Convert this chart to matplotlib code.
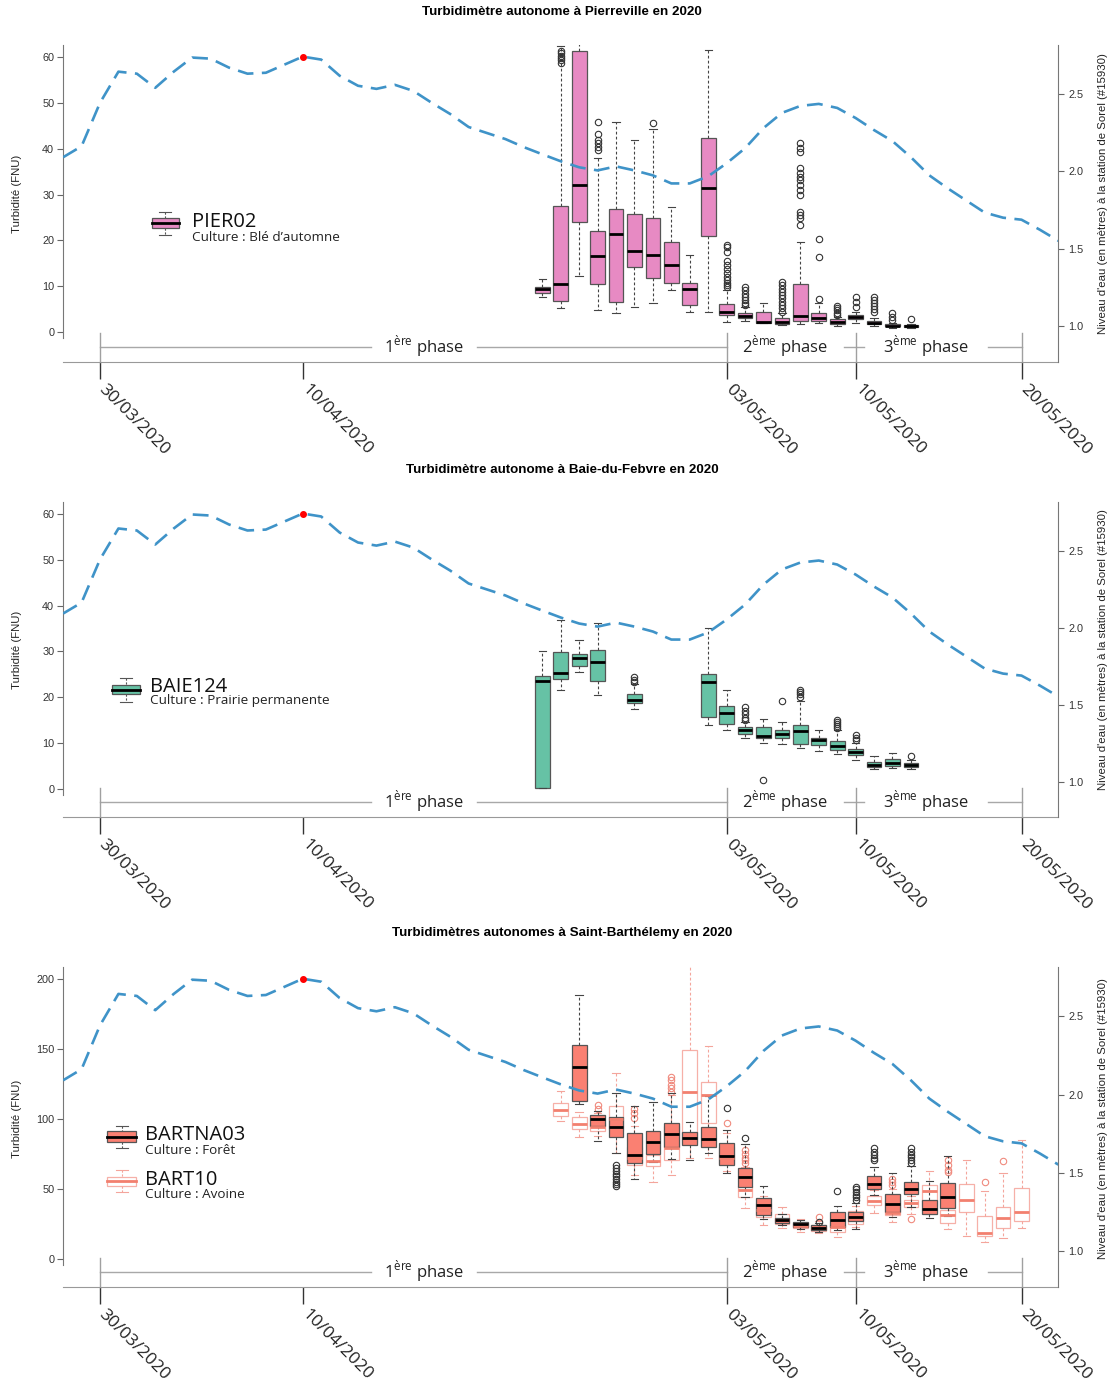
import matplotlib
matplotlib.use('Agg')
import matplotlib.pyplot as plt
from matplotlib.transforms import ScaledTranslation
from matplotlib.patches import Rectangle
from matplotlib.lines import Line2D

plt.rcParams['font.family'] = ['Liberation Sans', 'DejaVu Sans']
plt.rcParams['mathtext.fontset'] = 'dejavusans'

# ---- données ----
# niveau d'eau (m) à Sorel, jour 0 = 30/03/2020
niveau_jours = list(range(-2, 53))
niveau = [2.091, 2.162, 2.442, 2.643, 2.630, 2.539, 2.643, 2.734, 2.727, 2.669,
          2.630, 2.636, 2.688, 2.740, 2.721, 2.617, 2.552, 2.532, 2.558, 2.519,
          2.442, 2.370, 2.286, 2.247, 2.208, 2.156, 2.110, 2.065, 2.026, 2.006,
          2.032, 2.006, 1.974, 1.922, 1.922, 1.968, 2.052, 2.149, 2.279, 2.377,
          2.422, 2.435, 2.409, 2.344, 2.266, 2.195, 2.091, 1.974, 1.890, 1.812,
          1.734, 1.701, 1.688, 1.623, 1.552]
jour_max = 11

dates_jours = [0, 11, 34, 41, 50]
dates_labels = ['30/03/2020', '10/04/2020', '03/05/2020', '10/05/2020', '20/05/2020']

phases_bornes = [0, 34, 41, 50]
phases_centres = [17.58, 37.17, 44.82]
phases_noms = ['1', '2', '3']

# PIER02
pier_jours = list(range(24, 45))
pier_lo = [7.7, 5.3, 12.2, 4.8, 4.1, 5.5, 6.3, 9.3, 4.4, 4.4, 2.25, 2.4, 1.9, 1.5, 1.75, 1.9, 1.3, 2.0, 1.3, 1.0, 0.9]
pier_q1 = [8.6, 6.9, 24.1, 10.6, 6.5, 14.3, 11.9, 10.8, 5.9, 20.9, 3.85, 3.1, 2.0, 1.75, 2.5, 2.5, 1.75, 2.9, 1.75, 1.25, 1.15]
pier_med = [9.45, 10.4, 32.1, 16.7, 21.4, 17.7, 16.9, 14.7, 9.4, 31.5, 4.4, 3.6, 2.3, 2.25, 3.6, 3.05, 2.2, 3.35, 2.0, 1.45, 1.3]
pier_q3 = [9.9, 27.6, 61.2, 22.0, 26.8, 25.7, 24.9, 19.6, 10.8, 42.3, 6.25, 4.2, 4.4, 3.0, 10.4, 4.1, 2.8, 3.85, 2.5, 1.75, 1.5]
pier_hi = [11.5, 62.3, 75.0, 38.0, 45.9, 41.9, 44.2, 27.3, 16.8, 61.5, 9.3, 5.4, 6.4, 4.1, 19.7, 6.4, 3.3, 4.4, 3.0, 1.9, 1.7]
pier_out = [[], [58.7, 59.3, 59.8, 60.3, 60.8, 61.3], [], [39.7, 40.4, 41.2, 41.9, 43.3, 45.9],
            [], [], [45.7], [], [], [],
            [9.8, 10.3, 10.8, 11.3, 12.1, 12.8, 13.7, 14.6, 15.6, 17.5, 18.5, 19.0],
            [5.9, 6.4, 7.0, 7.7, 8.4, 9.3, 9.9], [],
            [4.4, 5.2, 5.9, 6.6, 7.4, 8.1, 8.8, 9.5, 10.3, 11.0],
            [23.3, 24.8, 25.5, 26.3, 29.9, 31.0, 32.1, 33.2, 33.9, 34.6, 35.7, 39.3, 40.1, 41.2],
            [7.2, 16.3, 20.4], [3.7, 4.2, 4.8, 5.3, 5.75], [5.5, 6.6, 7.7],
            [4.4, 5.0, 5.75, 6.4, 7.0, 7.7], [2.6, 3.3, 4.2], [2.9]]

# BAIE124
baie_jours = [24, 25, 26, 27, 29, 33, 34, 35, 36, 37, 38, 39, 40, 41, 42, 43, 44]
baie_lo = [0.2, 21.7, 25.6, 20.6, 17.4, 13.9, 12.9, 11.1, 10.0, 9.75, 8.9, 8.4, 7.6, 6.3, 4.4, 4.6, 4.4]
baie_q1 = [0.3, 24.0, 26.9, 23.6, 18.8, 15.7, 14.1, 12.0, 11.1, 11.1, 9.9, 9.5, 8.5, 7.4, 4.7, 5.0, 4.9]
baie_med = [23.5, 25.2, 28.6, 27.7, 19.5, 23.3, 16.5, 12.8, 11.5, 12.0, 12.7, 10.6, 9.45, 8.1, 5.3, 5.6, 5.3]
baie_q3 = [24.7, 29.9, 29.4, 30.3, 20.7, 25.0, 18.2, 13.5, 13.6, 12.8, 14.0, 11.2, 10.4, 8.7, 6.0, 6.6, 5.7]
baie_hi = [30.0, 36.9, 32.4, 36.2, 23.0, 35.1, 21.7, 14.7, 15.2, 14.6, 19.1, 12.9, 12.9, 10.0, 7.3, 7.9, 6.3]
baie_out = [[], [], [], [], [23.4, 23.8, 24.4], [], [], [15.0, 15.5, 16.3, 17.0, 17.8],
            [2.0], [19.1], [20.0, 20.7, 21.2, 21.7], [], [13.3, 13.7, 14.2, 14.6, 15.0],
            [10.7, 11.2, 11.8], [], [], [7.2]]

# BARTNA03
bna_jours = list(range(26, 47))
bna_lo = [110.7, 84, 75.9, 57.1, 69.0, 71.2, 70.7, 75.5, 61.2, 44.0, 28.6, 24.3, 21.2, 19.5, 21.0, 21.5, 46, 30.2, 37.4, 29.0, 30.7]
bna_q1 = [113.1, 95.2, 86.9, 68.3, 74.8, 80.2, 81.2, 80.2, 67.3, 51.6, 31.4, 25.5, 22.6, 20.7, 23.1, 26.9, 50.0, 33.8, 46.4, 32.1, 36.2]
bna_med = [137.4, 99.8, 94.0, 74.3, 83.6, 89.3, 86.7, 85.7, 73.7, 58.8, 38.6, 27.9, 24.8, 21.9, 27.9, 30.2, 53.6, 39.0, 49.8, 35.7, 44.5]
bna_q3 = [152.9, 103.0, 101.2, 89.8, 91.7, 96.9, 90.5, 94.5, 83.2, 65.2, 43.3, 29.5, 26.2, 24.3, 33.8, 33.8, 59.3, 46.2, 55.2, 42.1, 54.5]
bna_hi = [188.6, 106, 118.8, 109.3, 112.4, 118.3, 98.1, 116.4, 92, 82, 52.4, 32.4, 27.9, 25.5, 37.9, 39.8, 65.9, 61.7, 66.4, 55.7, 73.6]
bna_out = [[], [], [52, 53.5, 55, 57, 59, 61, 63, 65, 67], [], [], [], [], [], [107.8], [86.2],
           [], [], [], [26.2], [48.8], [42, 44, 46, 48, 50, 51.6], [70.7, 72.5, 74.5, 76.5, 79],
           [], [68.6, 70.6, 72.6, 74.6, 76.6, 79], [], []]

# BART10
b10_jours = list(range(25, 51))
b10_lo = [98.6, 87.4, 88, 76, 60, 55, 60, 72, 72, 63, 36.2, 24, 21.9, 19.0, 18.5, 16.0, 23, 33.1, 26.5, 32, 32, 21.4, 16.4, 12.4, 15.2, 22.4]
b10_q1 = [102.4, 92.6, 91.5, 92, 67.5, 66.4, 71, 83, 97.4, 68, 44.5, 30, 24.8, 22.0, 20.0, 19.5, 25, 38.6, 31.2, 37.4, 38, 25.5, 33.8, 16.7, 21.9, 27.4]
b10_med = [106.7, 96.2, 94.5, 100, 72, 70, 79, 119.5, 117.1, 72, 49.3, 35, 27.9, 23.9, 22.5, 22.6, 30, 41.2, 33.1, 39.8, 48.8, 31.2, 42.1, 18.3, 29.0, 33.8]
b10_q3 = [111.2, 101.2, 97, 109, 80, 74, 95, 149.3, 126.7, 80, 52, 40, 32.1, 26.0, 24.3, 24.3, 34, 45.2, 42, 42.1, 52.9, 35, 53.3, 30.9, 37.4, 50.5]
b10_hi = [120.2, 105, 104, 133, 95, 85, 117, 215, 152.1, 90, 66, 45, 37.4, 28.5, 27, 30, 38, 49.4, 50, 45, 62.9, 54, 70.7, 48.8, 61.2, 85]
b10_out = [[], [], [107.5, 110], [], [101, 104, 107], [], [119.5, 122, 124, 128, 130], [], [], [96.9],
           [68.4, 70.5, 72.5, 75, 78], [], [], [], [29.8], [], [], [], [53, 55.2, 57.1], [28.3],
           [], [62.4, 63.6, 67.1, 70.7], [], [54.8], [70.2], []]

# ---- mise en page (pixels de l'image) ----
W, H = 1113, 1387
AX_L, AX_R = 63, 1058
PX_JOUR = 18.43
XLIM = ((AX_L - 100) / PX_JOUR, (AX_R - 100) / PX_JOUR)

OPEN = ['Open Sans', 'DejaVu Sans']
BLEU = '#3F93C8'


def stats(lo, q1, med, q3, hi, out):
    return [dict(whislo=a, q1=b, med=c, q3=d, whishi=e, fliers=f)
            for a, b, c, d, e, f in zip(lo, q1, med, q3, hi, out)]


def boites(ax, jours, st, face, edge='#555555', med='black', wcol='#444444', fcol='#333333'):
    ax.bxp(st, positions=jours, widths=0.8, capwidths=0.4, patch_artist=True,
           manage_ticks=False,
           boxprops=dict(facecolor=face, edgecolor=edge, linewidth=0.9),
           medianprops=dict(color=med, linewidth=2.0, solid_capstyle='butt'),
           whiskerprops=dict(color=wcol, linewidth=0.8, linestyle=(0, (2.5, 2))),
           capprops=dict(color=wcol, linewidth=0.8),
           flierprops=dict(marker='o', markerfacecolor='none', markeredgecolor=fcol,
                           markersize=4.6, markeredgewidth=0.8))


def fx(x):
    return x / W


def fy(y):
    return 1 - y / H


def cle(fig, cx, hw, bt, bb, md, wt, wb, face, edge, medc, wcol):
    fig.add_artist(Line2D([fx(cx)] * 2, [fy(wt), fy(bt)], color=wcol, lw=0.8, ls=(0, (2, 1.5))))
    fig.add_artist(Line2D([fx(cx)] * 2, [fy(bb), fy(wb)], color=wcol, lw=0.8, ls=(0, (2, 1.5))))
    for w in (wt, wb):
        fig.add_artist(Line2D([fx(cx - 6), fx(cx + 6)], [fy(w)] * 2, color=wcol, lw=0.8))
    fig.add_artist(Rectangle((fx(cx - hw), fy(bb)), fx(2 * hw), fy(bt) - fy(bb),
                             facecolor=face, edgecolor=edge, lw=0.9, transform=fig.transFigure))
    fig.add_artist(Line2D([fx(cx - hw), fx(cx + hw)], [fy(md)] * 2, color=medc, lw=2.0))


panneaux = [
    dict(top=45, bot=362, ylim=(-6.5, 62.6), yt=[0, 10, 20, 30, 40, 50, 60],
         titre='Turbidimètre autonome à Pierreville en 2020', ty=12, lab_y=194),
    dict(top=502, bot=817, ylim=(-6.1, 62.6), yt=[0, 10, 20, 30, 40, 50, 60],
         titre='Turbidimètre autonome à Baie-du-Febvre en 2020', ty=470, lab_y=650),
    dict(top=967, bot=1287, ylim=(-20, 208.6), yt=[0, 50, 100, 150, 200],
         titre='Turbidimètres autonomes à Saint-Barthélemy en 2020', ty=933, lab_y=1119),
]

fig = plt.figure(figsize=(W / 100, H / 100), dpi=100)

for i, p in enumerate(panneaux):
    hpx = p['bot'] - p['top']
    ax = fig.add_axes([fx(AX_L), fy(p['bot']), (AX_R - AX_L) / W, hpx / H])
    ax.set_xlim(*XLIM)
    ax.set_ylim(*p['ylim'])

    if i == 0:
        boites(ax, pier_jours, stats(pier_lo, pier_q1, pier_med, pier_q3, pier_hi, pier_out), '#E78AC3')
    elif i == 1:
        boites(ax, baie_jours, stats(baie_lo, baie_q1, baie_med, baie_q3, baie_hi, baie_out), '#66C2A5')
    else:
        boites(ax, b10_jours, stats(b10_lo, b10_q1, b10_med, b10_q3, b10_hi, b10_out), 'none',
               edge='#F6B0A8', med='#F2806F', wcol='#F4A59C', fcol='#F08A7E')
        boites(ax, bna_jours, stats(bna_lo, bna_q1, bna_med, bna_q3, bna_hi, bna_out), '#FA8072')

    # axes
    y0, y1 = p['ylim']
    upx = (y1 - y0) / hpx
    ax.spines['top'].set_visible(False)
    ax.spines['right'].set_visible(False)
    ax.spines['left'].set_bounds(-6 * upx, y1)
    ax.spines['left'].set_color('#777777')
    ax.spines['bottom'].set_color('#999999')
    for s in ('left', 'bottom'):
        ax.spines[s].set_linewidth(0.8)
    ax.set_yticks(p['yt'])
    ax.tick_params(axis='y', length=4.3, width=0.8, color='#666666', labelsize=7.8,
                   labelcolor='#333333', pad=2)
    ax.set_xticks(dates_jours)
    ax.tick_params(axis='x', length=12, width=1.0, color='#333333', labelbottom=False)

    # dates inclinées
    tr = ax.get_xaxis_transform() + ScaledTranslation(0.07, -0.20, fig.dpi_scale_trans)
    for d, lab in zip(dates_jours, dates_labels):
        ax.text(d, 0, lab, transform=tr, rotation=-45, rotation_mode='anchor',
                ha='left', va='top', fontsize=12.6, family=OPEN, color='#222222')

    # phases
    xt = ax.get_xaxis_transform()
    yl = 15 / hpx
    demi = [2.85, 3.2, 3.35]
    segs = [(phases_bornes[0], phases_centres[0] - demi[0]),
            (phases_centres[0] + demi[0], phases_bornes[1]),
            (phases_centres[1] + demi[1], phases_centres[2] - demi[2]),
            (phases_centres[2] + demi[2], phases_bornes[3])]
    for a, b in segs:
        ax.plot([a, b], [yl, yl], transform=xt, color='#A8A8A8', lw=1.0, clip_on=False)
    for b in phases_bornes:
        ax.plot([b, b], [0, 29 / hpx], transform=xt, color='#A0A0A0', lw=1.0, clip_on=False)
    for c, n in zip(phases_centres, phases_noms):
        sup = 'ère' if n == '1' else 'ème'
        ax.text(c, yl, n + r'$^{\mathregular{' + sup + r'}}$ phase', transform=xt,
                ha='center', va='center', fontsize=12, family=OPEN, color='#222222')

    # niveau d'eau
    ax2 = ax.twinx()
    ax2.set_ylim(0.77, 2.815)
    ax2.plot(niveau_jours, niveau, color=BLEU, lw=1.9, dashes=(6.0, 3.2))
    ax2.plot([jour_max], [niveau[niveau_jours.index(jour_max)]], 'o', color='red', ms=4, zorder=5)
    for s in ('top', 'left', 'bottom'):
        ax2.spines[s].set_visible(False)
    ax2.spines['right'].set_color('#777777')
    ax2.spines['right'].set_linewidth(0.8)
    ax2.set_yticks([1.0, 1.5, 2.0, 2.5])
    ax2.set_yticklabels(['1.0', '1.5', '2.0', '2.5'])
    ax2.tick_params(axis='y', length=4.3, width=0.8, color='#666666', labelsize=7.8,
                    labelcolor='#333333', pad=3)

    fig.text(fx(562), fy(p['ty']), p['titre'], ha='center', va='center', fontsize=9.6,
             fontweight='bold')
    fig.text(fx(17), fy(p['lab_y']), 'Turbidité (FNU)', rotation=90, ha='center', va='center',
             fontsize=8.2, color='#222222')
    fig.text(fx(1103), fy(p['lab_y']), "Niveau d'eau (en mètres) à la station de Sorel (#15930)",
             rotation=90, ha='center', va='center', fontsize=8.2, color='#222222')

# légendes
NOM = dict(fontsize=14.5, family=OPEN, color='#111111', va='baseline', ha='left')
CULT = dict(fontsize=9.7, family=OPEN, color='#222222', va='baseline', ha='left')

cle(fig, 165, 13.5, 218, 228, 222.7, 211.5, 235.3, '#E78AC3', '#555555', 'black', '#555555')
fig.text(fx(192), fy(226.7), 'PIER02', **NOM)
fig.text(fx(192), fy(240.7), 'Culture : Blé d’automne', **CULT)

cle(fig, 126, 14, 685, 694, 690, 678, 702, '#66C2A5', '#555555', 'black', '#555555')
fig.text(fx(150), fy(691.7), 'BAIE124', **NOM)
fig.text(fx(150), fy(704.3), 'Culture : Prairie permanente', **CULT)

cle(fig, 121.5, 14.5, 1131, 1142, 1136.7, 1126, 1148, '#FA8072', '#555555', 'black', '#555555')
fig.text(fx(145), fy(1140), 'BARTNA03', **NOM)
fig.text(fx(145), fy(1154.3), 'Culture : Forêt', **CULT)

cle(fig, 121.5, 14.5, 1177, 1186, 1181, 1170, 1192, 'none', '#F6B0A8', '#F2806F', '#F4A59C')
fig.text(fx(145), fy(1185), 'BART10', **NOM)
fig.text(fx(145), fy(1198.3), 'Culture : Avoine', **CULT)

fig.savefig('out.png', dpi=100)
